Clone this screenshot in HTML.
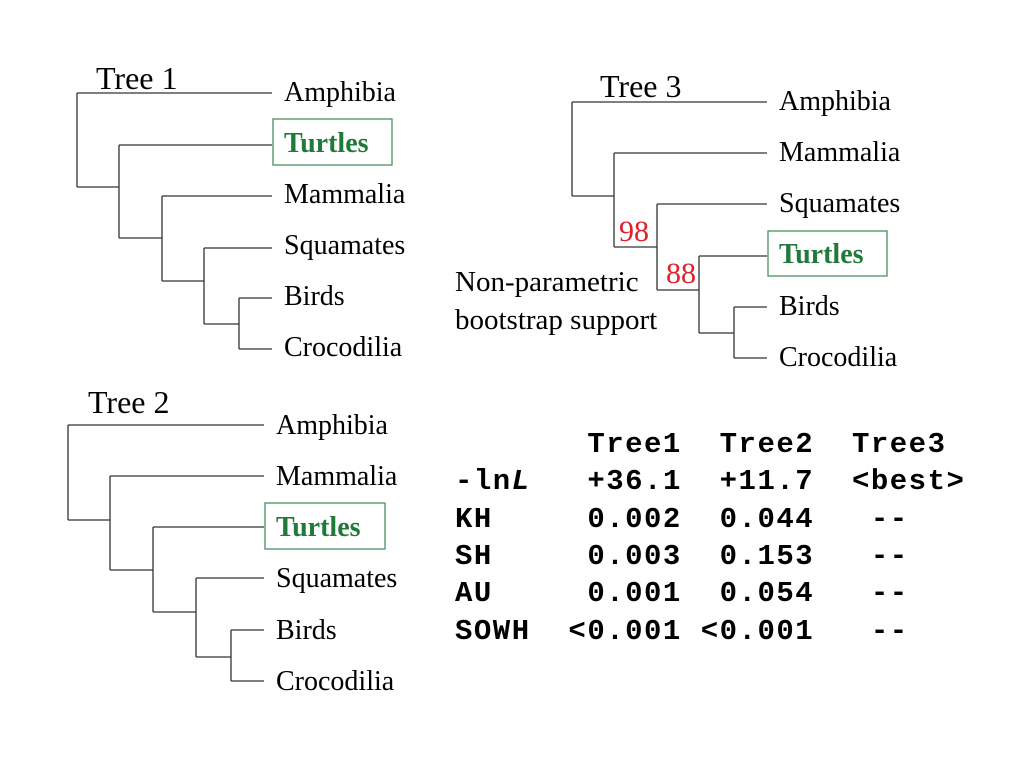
<!DOCTYPE html>
<html><head><meta charset="utf-8"><style>
body{margin:0;background:#fff;width:1024px;height:768px;overflow:hidden}
svg{display:block}
.lbl{font-family:"Liberation Serif",serif;font-size:28px;fill:#000}
.note{font-family:"Liberation Serif",serif;font-size:29px;fill:#000}
.ttl{font-family:"Liberation Serif",serif;font-size:32px;fill:#000}
.tur{font-family:"Liberation Serif",serif;font-size:28px;font-weight:bold;fill:#207a3a}
.bs{font-family:"Liberation Serif",serif;font-size:30px;fill:#e0202a}
.tb{font-family:"Liberation Mono",monospace;font-size:29px;font-weight:bold;fill:#000;letter-spacing:1.5px;white-space:pre}
line{stroke:#333;stroke-width:1.3}
</style></head><body>
<svg width="1024" height="768">
<g>
<text class="ttl" x="96" y="89">Tree 1</text>
<line x1="77" y1="93" x2="77" y2="187"/><line x1="77" y1="93" x2="272" y2="93"/><line x1="77" y1="187" x2="119" y2="187"/>
<line x1="119" y1="145" x2="119" y2="238"/><line x1="119" y1="145" x2="272" y2="145"/><line x1="119" y1="238" x2="162" y2="238"/>
<line x1="162" y1="196" x2="162" y2="281"/><line x1="162" y1="196" x2="272" y2="196"/><line x1="162" y1="281" x2="204" y2="281"/>
<line x1="204" y1="248" x2="204" y2="324"/><line x1="204" y1="248" x2="272" y2="248"/><line x1="204" y1="324" x2="239" y2="324"/>
<line x1="239" y1="298" x2="239" y2="349"/><line x1="239" y1="298" x2="272" y2="298"/><line x1="239" y1="349" x2="272" y2="349"/>
<rect x="273" y="119" width="119" height="46" fill="none" stroke="#4a9060" stroke-width="1.3"/>
<text class="lbl" x="284" y="101">Amphibia</text>
<text class="tur" x="284" y="152">Turtles</text>
<text class="lbl" x="284" y="203">Mammalia</text>
<text class="lbl" x="284" y="254">Squamates</text>
<text class="lbl" x="284" y="305">Birds</text>
<text class="lbl" x="284" y="356">Crocodilia</text>
</g>
<g>
<text class="ttl" x="600" y="97">Tree 3</text>
<line x1="572" y1="102" x2="572" y2="196"/><line x1="572" y1="102" x2="767" y2="102"/><line x1="572" y1="196" x2="614" y2="196"/>
<line x1="614" y1="153" x2="614" y2="247"/><line x1="614" y1="153" x2="767" y2="153"/><line x1="614" y1="247" x2="657" y2="247"/>
<line x1="657" y1="204" x2="657" y2="290"/><line x1="657" y1="204" x2="767" y2="204"/><line x1="657" y1="290" x2="699" y2="290"/>
<line x1="699" y1="256" x2="699" y2="333"/><line x1="699" y1="256" x2="767" y2="256"/><line x1="699" y1="333" x2="734" y2="333"/>
<line x1="734" y1="307" x2="734" y2="358"/><line x1="734" y1="307" x2="767" y2="307"/><line x1="734" y1="358" x2="767" y2="358"/>
<rect x="768" y="231" width="119" height="45" fill="none" stroke="#4a9060" stroke-width="1.3"/>
<text class="bs" x="619" y="241">98</text>
<text class="bs" x="666" y="283">88</text>
<text class="note" x="455" y="291">Non-parametric</text>
<text class="note" x="455" y="329">bootstrap support</text>
<text class="lbl" x="779" y="110">Amphibia</text>
<text class="lbl" x="779" y="161">Mammalia</text>
<text class="lbl" x="779" y="212">Squamates</text>
<text class="tur" x="779" y="263">Turtles</text>
<text class="lbl" x="779" y="315">Birds</text>
<text class="lbl" x="779" y="366">Crocodilia</text>
</g>
<g>
<text class="ttl" x="88" y="413">Tree 2</text>
<line x1="68" y1="425" x2="68" y2="520"/><line x1="68" y1="425" x2="264" y2="425"/><line x1="68" y1="520" x2="110" y2="520"/>
<line x1="110" y1="476" x2="110" y2="570"/><line x1="110" y1="476" x2="264" y2="476"/><line x1="110" y1="570" x2="153" y2="570"/>
<line x1="153" y1="527" x2="153" y2="612"/><line x1="153" y1="527" x2="264" y2="527"/><line x1="153" y1="612" x2="196" y2="612"/>
<line x1="196" y1="578" x2="196" y2="657"/><line x1="196" y1="578" x2="264" y2="578"/><line x1="196" y1="657" x2="231" y2="657"/>
<line x1="231" y1="630" x2="231" y2="681"/><line x1="231" y1="630" x2="264" y2="630"/><line x1="231" y1="681" x2="264" y2="681"/>
<rect x="265" y="503" width="120" height="46" fill="none" stroke="#4a9060" stroke-width="1.3"/>
<text class="lbl" x="276" y="434">Amphibia</text>
<text class="lbl" x="276" y="485">Mammalia</text>
<text class="tur" x="276" y="536">Turtles</text>
<text class="lbl" x="276" y="587">Squamates</text>
<text class="lbl" x="276" y="639">Birds</text>
<text class="lbl" x="276" y="690">Crocodilia</text>
</g>
<g>
<text class="tb" x="455" y="452">       Tree1  Tree2  Tree3</text>
<text class="tb" x="455" y="489">-ln<tspan font-style="italic">L</tspan>   +36.1  +11.7  &lt;best&gt;</text>
<text class="tb" x="455" y="527">KH     0.002  0.044   --</text>
<text class="tb" x="455" y="564">SH     0.003  0.153   --</text>
<text class="tb" x="455" y="601">AU     0.001  0.054   --</text>
<text class="tb" x="455" y="639">SOWH  &lt;0.001 &lt;0.001   --</text>
</g>
</svg>
</body></html>
